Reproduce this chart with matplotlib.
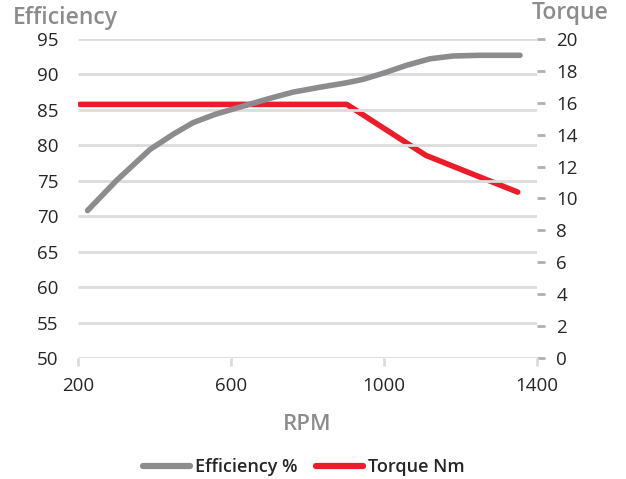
import matplotlib
matplotlib.use("Agg")
import matplotlib.pyplot as plt
from matplotlib.lines import Line2D

plt.rcParams['font.family'] = ['Open Sans', 'DejaVu Sans']

eff_rpm = [225, 300, 388, 450, 501, 560, 624, 700, 762, 833, 900, 945, 1000, 1060, 1120, 1180, 1250, 1356]
eff_val = [70.8, 75.0, 79.4, 81.6, 83.2, 84.4, 85.4, 86.6, 87.5, 88.2, 88.8, 89.3, 90.2, 91.3, 92.2, 92.6, 92.7, 92.7]

torque_rpm = [205, 903, 1110, 1350]
torque_val = [15.9, 15.9, 12.7, 10.4]

x_ticks = [200, 600, 1000, 1400]
eff_ticks = [50, 55, 60, 65, 70, 75, 80, 85, 90, 95]
torque_ticks = [0, 2, 4, 6, 8, 10, 12, 14, 16, 18, 20]

GRAY = '#8c8c8e'
RED = '#ed1c2a'
GRID = '#dcdcdc'
TXT = '#262626'

fig = plt.figure(figsize=(6.26, 4.79), dpi=100)
ax = fig.add_axes([0.1246, 0.2526, 0.733, 0.666])
ax2 = ax.twinx()

ax.set_xlim(200, 1400)
ax.set_ylim(50, 95)
ax2.set_ylim(0, 20)

for y in eff_ticks:
    ax.axhline(y, color=GRID, lw=2, zorder=0, solid_capstyle='butt')

ax.plot(eff_rpm, eff_val, color=GRAY, lw=4, solid_capstyle='round', solid_joinstyle='round', zorder=3)
ax2.plot(torque_rpm, torque_val, color=RED, lw=4, solid_capstyle='round', solid_joinstyle='round', zorder=3)
ax.set_zorder(ax2.get_zorder() + 1)
ax.patch.set_visible(False)

for a in (ax, ax2):
    for s in a.spines.values():
        s.set_visible(False)

ax.set_xticks(x_ticks)
ax.set_xticklabels([str(v) for v in x_ticks])
ax.set_yticks(eff_ticks)
ax.set_yticklabels([str(v) for v in eff_ticks])
ax.tick_params(axis='x', colors=GRID, length=6, width=2, labelcolor=TXT, labelsize=13.5, pad=8)
ax.tick_params(axis='y', length=0, labelcolor=TXT, labelsize=13.5, pad=14)

ax2.set_yticks(torque_ticks)
ax2.set_yticklabels([str(v) for v in torque_ticks])
ax2.tick_params(axis='y', colors='#b0b0b0', length=6, width=2, labelcolor=TXT, labelsize=13.5, pad=8)

ax.set_xlabel('RPM', color=GRAY, fontsize=16, fontweight='semibold', labelpad=13)
fig.text(0.02, 0.962, 'Efficiency', color=GRAY, fontsize=16.5, fontweight='semibold', ha='left', va='center')
fig.text(0.972, 0.972, 'Torque', color=GRAY, fontsize=16.5, fontweight='semibold', ha='right', va='center')

handles = [Line2D([0], [0], color=GRAY, lw=4.5, solid_capstyle='round'),
           Line2D([0], [0], color=RED, lw=4.5, solid_capstyle='round')]
leg = fig.legend(handles, ['Efficiency %', 'Torque Nm'], loc='center', bbox_to_anchor=(0.485, 0.025),
                 ncol=2, frameon=False, handlelength=2.6, columnspacing=1.0, handletextpad=0.3,
                 prop={'weight': 'semibold', 'size': 13})
for t in leg.get_texts():
    t.set_color(TXT)

fig.savefig('out.png', dpi=100)
